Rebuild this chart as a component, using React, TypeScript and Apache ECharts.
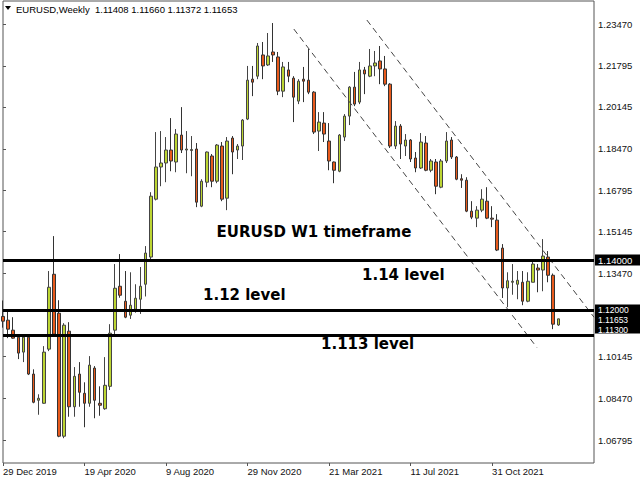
import React, { useEffect, useRef } from "react";
import * as echarts from "echarts";

// ---------- data ----------
const WEEK_SLOTS = 117; // 110 weekly bars + empty space on the right
const dateTickLabels = [
  "29 Dec 2019",
  "19 Apr 2020",
  "9 Aug 2020",
  "29 Nov 2020",
  "21 Mar 2021",
  "11 Jul 2021",
  "31 Oct 2021",
];
const TICK_EVERY = 16;

// weekly bars: [open, high, low, close]
const weeklyOHLC: number[][] = [
  [1.1175, 1.1239, 1.113, 1.1156],
  [1.116, 1.12, 1.1088, 1.1124],
  [1.112, 1.1172, 1.1086, 1.1088],
  [1.1092, 1.1096, 1.1004, 1.1028],
  [1.1032, 1.1096, 1.0992, 1.1092],
  [1.1092, 1.1095, 1.094, 1.0944],
  [1.0944, 1.0963, 1.0827, 1.0831],
  [1.0839, 1.0863, 1.0781, 1.0847],
  [1.0827, 1.1056, 1.0825, 1.1032],
  [1.1044, 1.1357, 1.1036, 1.1292],
  [1.1344, 1.1497, 1.11, 1.1104],
  [1.1188, 1.124, 1.0691, 1.0695],
  [1.0695, 1.1148, 1.0687, 1.114],
  [1.1116, 1.1152, 1.0773, 1.0813],
  [1.0813, 1.0972, 1.0773, 1.0935],
  [1.0944, 1.0992, 1.0813, 1.0871],
  [1.0867, 1.0911, 1.0731, 1.0827],
  [1.0827, 1.1016, 1.0813, 1.098],
  [1.0968, 1.0976, 1.0767, 1.0839],
  [1.0827, 1.0895, 1.0777, 1.0819],
  [1.0805, 1.1012, 1.0801, 1.0899],
  [1.0895, 1.1144, 1.088, 1.1108],
  [1.112, 1.1385, 1.11, 1.1288],
  [1.1296, 1.1425, 1.125, 1.126],
  [1.1236, 1.1357, 1.1168, 1.1172],
  [1.118, 1.1352, 1.1165, 1.122],
  [1.1204, 1.1304, 1.119, 1.1248],
  [1.1244, 1.1373, 1.1185, 1.1296],
  [1.1304, 1.1457, 1.1255, 1.1429],
  [1.1413, 1.1673, 1.1405, 1.1657],
  [1.1645, 1.1914, 1.164, 1.1774],
  [1.1774, 1.1918, 1.1697, 1.179],
  [1.179, 1.1894, 1.1713, 1.1842],
  [1.1842, 1.197, 1.1757, 1.1798],
  [1.1794, 1.1926, 1.1753, 1.1906],
  [1.1902, 1.2014, 1.183, 1.1842],
  [1.1842, 1.1918, 1.1749, 1.1846],
  [1.184, 1.1898, 1.1737, 1.1844],
  [1.1846, 1.187, 1.1613, 1.1633],
  [1.1617, 1.1725, 1.1613, 1.1717],
  [1.1713, 1.1836, 1.1693, 1.1834],
  [1.1818, 1.1826, 1.1693, 1.1717],
  [1.1717, 1.1866, 1.1709, 1.1862],
  [1.1858, 1.1874, 1.1637, 1.1645],
  [1.1649, 1.1894, 1.1601, 1.1878],
  [1.189, 1.1898, 1.1745, 1.1834],
  [1.1842, 1.1866, 1.1806, 1.1858],
  [1.1858, 1.1966, 1.1802, 1.1962],
  [1.1966, 1.2179, 1.1962, 1.2122],
  [1.2126, 1.2179, 1.2058, 1.2114],
  [1.2138, 1.2271, 1.2126, 1.2259],
  [1.2223, 1.2275, 1.2126, 1.2179],
  [1.2183, 1.2311, 1.2179, 1.2219],
  [1.2235, 1.2351, 1.2195, 1.2223],
  [1.2215, 1.2235, 1.2062, 1.2078],
  [1.2078, 1.2195, 1.2054, 1.2175],
  [1.2163, 1.2195, 1.2114, 1.2138],
  [1.213, 1.2138, 1.1954, 1.2054],
  [1.2038, 1.2126, 1.2026, 1.2118],
  [1.2126, 1.2175, 1.2034, 1.2118],
  [1.2122, 1.2247, 1.2066, 1.2074],
  [1.2074, 1.2078, 1.1906, 1.1914],
  [1.1918, 1.1994, 1.1838, 1.1954],
  [1.195, 1.1994, 1.1874, 1.1906],
  [1.1878, 1.195, 1.1761, 1.1798],
  [1.1794, 1.1796, 1.1709, 1.1761],
  [1.1757, 1.1906, 1.1753, 1.1902],
  [1.1894, 1.1986, 1.1878, 1.1978],
  [1.1978, 1.2098, 1.1942, 1.2094],
  [1.2094, 1.2155, 1.2018, 1.2026],
  [1.2034, 1.2195, 1.2026, 1.2163],
  [1.2163, 1.2175, 1.2066, 1.2147],
  [1.2138, 1.2247, 1.2134, 1.2179],
  [1.2179, 1.2239, 1.2138, 1.2191],
  [1.2199, 1.2259, 1.2106, 1.2167],
  [1.2167, 1.2219, 1.2098, 1.2106],
  [1.2106, 1.211, 1.185, 1.1858],
  [1.1858, 1.1958, 1.1846, 1.1938],
  [1.1938, 1.1946, 1.1806, 1.1866],
  [1.1858, 1.1906, 1.1818, 1.1882],
  [1.1882, 1.1886, 1.1794, 1.1806],
  [1.181, 1.1834, 1.1753, 1.177],
  [1.177, 1.191, 1.1766, 1.1874],
  [1.187, 1.1898, 1.1757, 1.1761],
  [1.1761, 1.1806, 1.1753, 1.1798],
  [1.1794, 1.1806, 1.1665, 1.1697],
  [1.1693, 1.1806, 1.1689, 1.1798],
  [1.1798, 1.1914, 1.179, 1.1878],
  [1.1882, 1.1894, 1.1806, 1.1814],
  [1.1814, 1.1818, 1.1721, 1.1725],
  [1.1727, 1.1745, 1.169, 1.1721],
  [1.1721, 1.1733, 1.1593, 1.1597],
  [1.1597, 1.1637, 1.1565, 1.1573],
  [1.1569, 1.1617, 1.1533, 1.1601],
  [1.1601, 1.1685, 1.1593, 1.1645],
  [1.1637, 1.1693, 1.1565, 1.1569],
  [1.1569, 1.1617, 1.1533, 1.1565],
  [1.1561, 1.1585, 1.1437, 1.1441],
  [1.1449, 1.1465, 1.1249, 1.1289],
  [1.1289, 1.1352, 1.1212, 1.1318],
  [1.1312, 1.1385, 1.1262, 1.1316],
  [1.1304, 1.1357, 1.1244, 1.132],
  [1.1312, 1.1357, 1.122, 1.1236],
  [1.1236, 1.1352, 1.1232, 1.1316],
  [1.1312, 1.1397, 1.1312, 1.1385],
  [1.1369, 1.1385, 1.1272, 1.1361],
  [1.1361, 1.1485, 1.1276, 1.1417],
  [1.1413, 1.1437, 1.1312, 1.134],
  [1.134, 1.1347, 1.1124, 1.1144],
  [1.11408, 1.1166, 1.11372, 1.11653],
];

const priceTicks = [
  1.06795, 1.0847, 1.10145, 1.1347, 1.15145, 1.16795, 1.1847, 1.20145, 1.21795, 1.2347,
];
const Y_MIN = 1.05876;
const Y_MAX = 1.24393;

const levelPrices = [1.14, 1.12, 1.113];
// price tags on the right edge, drawn in this order (last one on top)
const tagPrices = [1.14, 1.12, 1.11653, 1.113];
const tagTexts = ["1.14000", "1.12000", "1.11653", "1.11300"];
const tagNudge = [0, -1, 0, 1.5];

// dashed channel: [bar index, price]
const channelLower = [
  [57.08, 1.2327],
  [104.77, 1.1051],
];
const channelUpper = [
  [71.42, 1.2363],
  [116, 1.1172],
];

const headerText = "EURUSD,Weekly  1.11408 1.11660 1.11372 1.11653";
const annotationTexts = ["EURUSD W1 timeframe", "1.14 level", "1.12 level", "1.113 level"];

const MONTHS = ["Jan", "Feb", "Mar", "Apr", "May", "Jun", "Jul", "Aug", "Sep", "Oct", "Nov", "Dec"];
const categories: string[] = [];
for (let i = 0; i < WEEK_SLOTS; i++) {
  const d = new Date(Date.UTC(2019, 11, 29) + i * 7 * 86400000);
  categories.push(`${d.getUTCDate()} ${MONTHS[d.getUTCMonth()]} ${d.getUTCFullYear()}`);
}

const AXIS_FONT = "Liberation Sans";
const NOTE_FONT = "DejaVu Sans";

export default function App() {
  const ref = useRef<HTMLDivElement>(null);

  useEffect(() => {
    if (!ref.current) return;
    const chart = echarts.init(ref.current, undefined, { renderer: "svg" });

    const showTick = (idx: number) => idx % TICK_EVERY === 0 && idx / TICK_EVERY < dateTickLabels.length;

    const candleData = weeklyOHLC.map(([o, h, l, c]) => [o, c, l, h]);

    const levelLine = { color: "#000", width: 3, type: "solid" };

    const noteStyle = {
      fontFamily: NOTE_FONT,
      fontWeight: "bold",
      fontSize: 15,
      fill: "#000",
      verticalAlign: "middle",
    };

    const baseGraphic: any[] = [
      {
        type: "polygon",
        shape: { points: [[5, 6], [11, 6], [8, 10]] },
        style: { fill: "#000" },
      },
      {
        type: "text",
        x: 16,
        y: 9,
        style: {
          text: headerText,
          fontFamily: AXIS_FONT,
          fontSize: 9.5,
          fill: "#000",
          verticalAlign: "middle",
        },
      },
      {
        type: "text",
        x: 314,
        y: 232,
        style: { ...noteStyle, text: annotationTexts[0], align: "center" },
      },
      {
        type: "text",
        x: 362,
        y: 275,
        style: { ...noteStyle, text: annotationTexts[1], align: "left" },
      },
      {
        type: "text",
        x: 203,
        y: 295,
        style: { ...noteStyle, text: annotationTexts[2], align: "left" },
      },
      {
        type: "text",
        x: 321,
        y: 344,
        style: { ...noteStyle, text: annotationTexts[3], align: "left" },
      },
    ];

    chart.setOption({
      animation: false,
      backgroundColor: "#fff",
      grid: {
        left: 2,
        right: 46,
        top: 1,
        bottom: 17,
        show: true,
        borderColor: "#555",
        borderWidth: 1,
        backgroundColor: "transparent",
      },
      xAxis: [
        {
          type: "category",
          data: categories,
          boundaryGap: false,
          axisLine: { show: false },
          axisTick: {
            show: true,
            interval: (idx: number) => showTick(idx),
            length: 3,
            lineStyle: { color: "#555" },
          },
          axisLabel: {
            interval: (idx: number) => showTick(idx),
            formatter: (_v: string, idx: number) => dateTickLabels[idx / TICK_EVERY] ?? "",
            align: "left",
            margin: 3,
            fontSize: 9.5,
            fontFamily: AXIS_FONT,
            color: "#111",
          },
          splitLine: { show: false },
        },
        {
          type: "value",
          min: 0,
          max: WEEK_SLOTS - 1,
          show: false,
        },
      ],
      yAxis: {
        type: "value",
        position: "right",
        min: Y_MIN,
        max: Y_MAX,
        scale: true,
        axisLine: { show: false },
        splitLine: { show: false },
        axisTick: {
          show: true,
          length: 3,
          customValues: priceTicks,
          lineStyle: { color: "#555" },
        },
        axisLabel: {
          customValues: priceTicks,
          formatter: (v: number) => v.toFixed(5),
          margin: 4,
          fontSize: 9.5,
          fontFamily: AXIS_FONT,
          color: "#111",
        },
      },
      series: [
        {
          type: "candlestick",
          xAxisIndex: 0,
          yAxisIndex: 0,
          data: candleData,
          barWidth: 3,
          itemStyle: {
            color: "#bcd532",
            color0: "#e85a1c",
            borderColor: "#444",
            borderColor0: "#333",
            borderWidth: 1,
          },
          silent: true,
        },
        {
          type: "line",
          xAxisIndex: 1,
          yAxisIndex: 0,
          data: channelLower,
          symbol: "none",
          silent: true,
          lineStyle: { color: "#444", width: 1, type: [6, 4] },
        },
        {
          type: "line",
          xAxisIndex: 1,
          yAxisIndex: 0,
          data: channelUpper,
          symbol: "none",
          silent: true,
          lineStyle: { color: "#444", width: 1, type: [6, 4] },
        },
        {
          type: "line",
          xAxisIndex: 1,
          yAxisIndex: 0,
          data: [],
          silent: true,
          markLine: {
            silent: true,
            symbol: ["none", "none"],
            animation: false,
            label: { show: false },
            lineStyle: levelLine,
            data: levelPrices.map((p) => ({ yAxis: p })),
          },
        },
      ],
      graphic: baseGraphic,
    });

    // price tags placed through the y axis scale
    const tagGraphic: any[] = [];
    tagPrices.forEach((p, i) => {
      const y = chart.convertToPixel({ yAxisIndex: 0 }, p) as number;
      tagGraphic.push({
        type: "rect",
        shape: { x: 595, y: Math.round(y) - 5.5, width: 45, height: 11 },
        style: { fill: "#000" },
        z: 100,
      });
      tagGraphic.push({
        type: "text",
        x: 598,
        y: Math.round(y) + 0.5 + tagNudge[i],
        z: 101,
        style: {
          text: tagTexts[i],
          fontFamily: AXIS_FONT,
          fontSize: i === 0 ? 9.5 : 8.5,
          fill: "#fff",
          verticalAlign: "middle",
        },
      });
    });
    chart.setOption({ graphic: [...baseGraphic, ...tagGraphic] });

    return () => chart.dispose();
  }, []);

  return (
    <div
      ref={ref}
      style={{ position: "fixed", left: 0, top: 0, width: 640, height: 480, background: "#fff" }}
    />
  );
}
